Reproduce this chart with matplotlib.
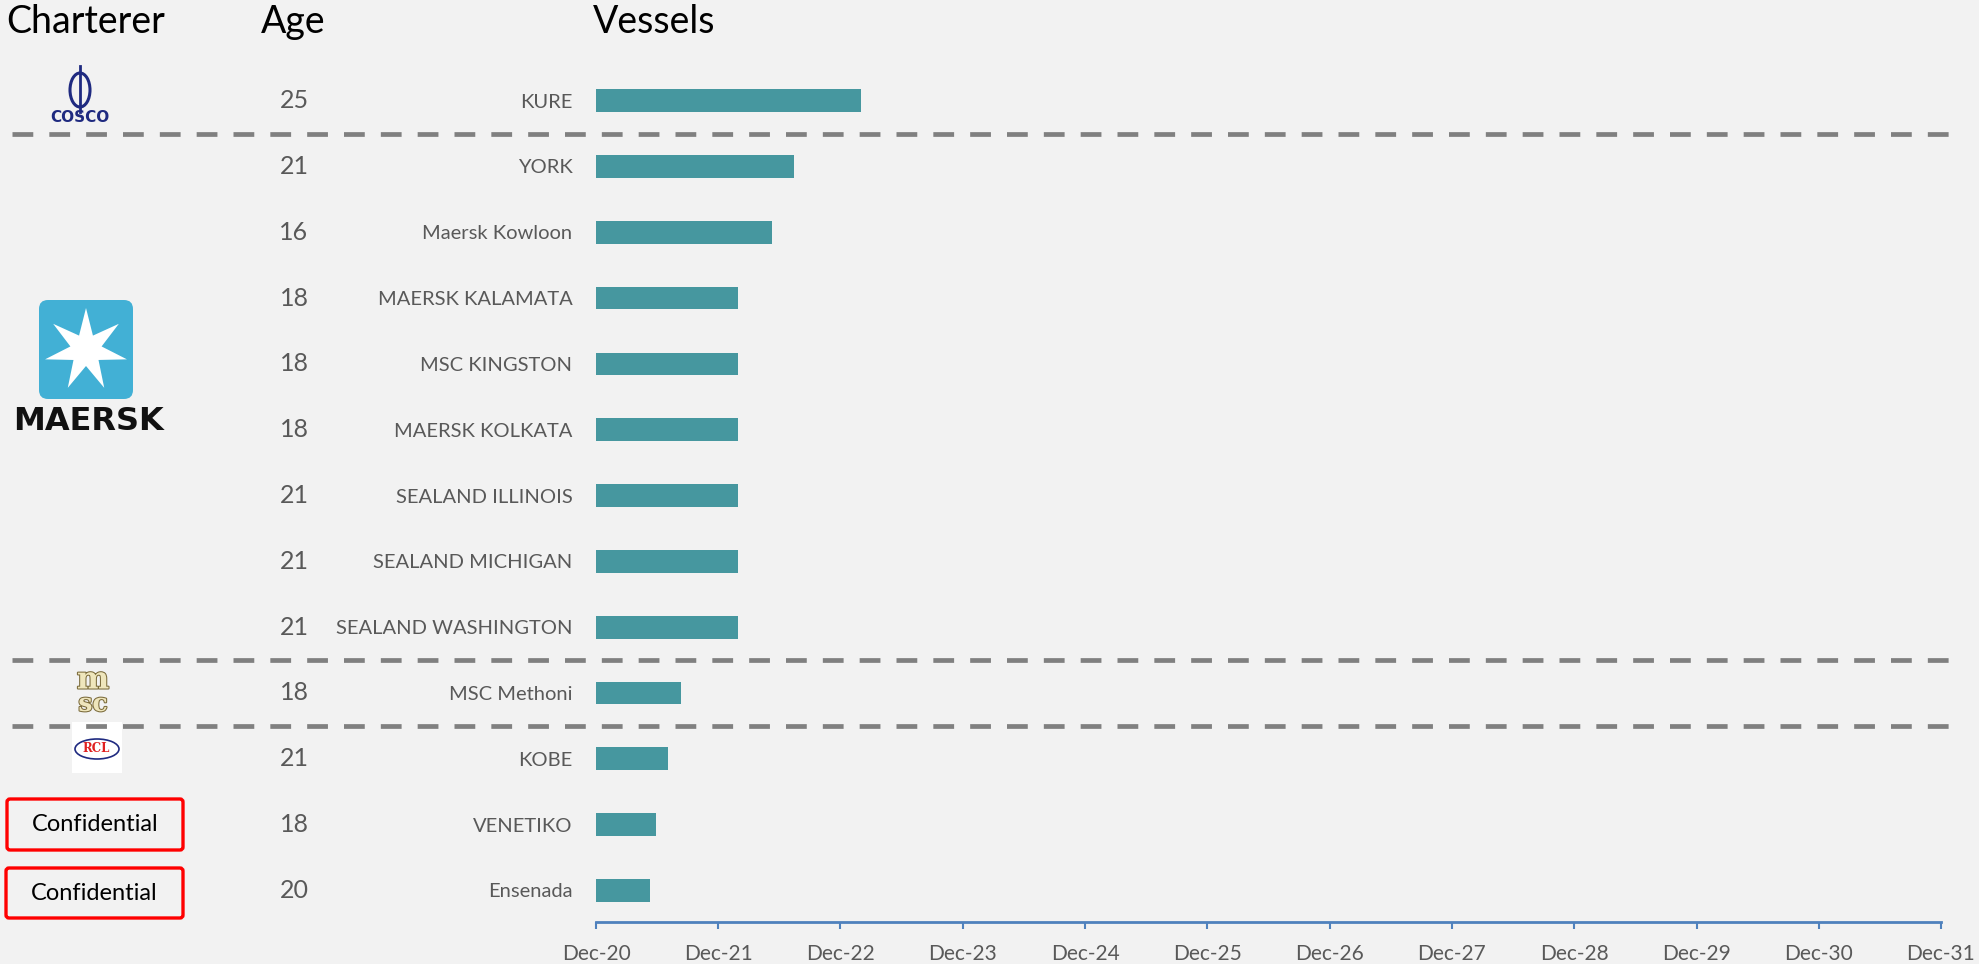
import matplotlib
matplotlib.use('Agg')
import matplotlib.pyplot as plt
import matplotlib.dates as mdates
import matplotlib.transforms as mtransforms
import matplotlib.patheffects as pe
from matplotlib.patches import FancyBboxPatch, Ellipse, Polygon, Rectangle
import numpy as np
from datetime import datetime

# Datos
buques = ['KURE', 'YORK', 'Maersk Kowloon', 'MAERSK KALAMATA', 'MSC KINGSTON',
          'MAERSK KOLKATA', 'SEALAND ILLINOIS', 'SEALAND MICHIGAN',
          'SEALAND WASHINGTON', 'MSC Methoni', 'KOBE', 'VENETIKO', 'Ensenada']
edades = [25, 21, 16, 18, 18, 18, 21, 21, 21, 18, 21, 18, 20]
fin_contrato = ['2023-02-01', '2022-07-15', '2022-05-10', '2022-01-28', '2022-01-28',
                '2022-01-28', '2022-01-28', '2022-01-28', '2022-01-28', '2021-08-13',
                '2021-07-03', '2021-05-30', '2021-05-10']
inicio = '2020-12-01'
# fletadores y cantidad de buques por grupo (separadores entre grupos)
fletadores = ['COSCO', 'MAERSK', 'MSC', 'RCL', 'Confidential']
buques_por_fletador = [1, 8, 1, 1, 2]
ticks_anios = list(range(2020, 2032))

W, H = 1979, 964
fondo = '#F2F2F2'
gris = '#595959'

fig = plt.figure(figsize=(W / 100, H / 100), dpi=100, facecolor=fondo)
plt.rcParams['font.family'] = ['Lato', 'DejaVu Sans']

# eje principal de barras
x0, x1, y_eje = 596, 1941, 922
ax = fig.add_axes([x0 / W, (H - y_eje) / H, (x1 - x0) / W, y_eje / H])
ax.set_facecolor('none')

y = np.arange(len(buques))
d0 = mdates.date2num(datetime.strptime(inicio, '%Y-%m-%d'))
fines = np.array([mdates.date2num(datetime.strptime(f, '%Y-%m-%d')) for f in fin_contrato])
ax.barh(y, fines - d0, left=d0, height=0.345, color='#46979F')

ticks = [mdates.date2num(datetime(a, 12, 1)) for a in ticks_anios]
ax.set_xticks(ticks)
ax.xaxis.set_major_formatter(mdates.DateFormatter('%b-%y'))
ax.set_xlim(ticks[0], ticks[-1])
ax.set_ylim(12.48, -1.53)

ax.set_yticks(y)
ax.set_yticklabels(buques, color=gris, fontsize=14.5)
ax.tick_params(axis='y', length=0, pad=17)
ax.tick_params(axis='x', colors='#4F81BD', length=5, width=1.5, labelcolor=gris,
               labelsize=15, pad=11)
for s in ['top', 'right', 'left']:
    ax.spines[s].set_visible(False)
ax.spines['bottom'].set_color('#4F81BD')
ax.spines['bottom'].set_linewidth(2)

# separadores punteados entre fletadores
trans_sep = ax.get_yaxis_transform()
cortes = np.cumsum(buques_por_fletador)[:-2] - 0.5
for c in cortes:
    ax.plot([(12 - x0) / (x1 - x0), (1956 - x0) / (x1 - x0)], [c, c], transform=trans_sep,
            color='#808080', lw=3.4, linestyle=(0, (4.4, 3.4)), dash_capstyle='butt',
            clip_on=False)

# edades
trans_edad = mtransforms.blended_transform_factory(fig.transFigure, ax.transData)
for yi, e in zip(y, edades):
    ax.text(294 / W, yi, str(e), transform=trans_edad, ha='center', va='center',
            fontsize=18, color=gris)

# encabezados
fig.text(6 / W, 1 - 22 / H, 'Charterer', fontsize=27, va='center', ha='left')
fig.text(261 / W, 1 - 22 / H, 'Age', fontsize=27, va='center', ha='left')
fig.text(593 / W, 1 - 22 / H, 'Vessels', fontsize=27, va='center', ha='left')

# logos (aproximados) en coordenadas de pixel
lg = fig.add_axes([0, 0, 1, 1], zorder=-1)
lg.set_xlim(0, W)
lg.set_ylim(H, 0)
lg.axis('off')
lg.patch.set_alpha(0)

# COSCO
azul = '#1F2A80'
lg.add_patch(Ellipse((80, 90), 20, 34, fill=False, ec=azul, lw=2.2))
lg.plot([80, 80], [66, 112], color=azul, lw=2)
lg.text(80, 117, 'COSCO', ha='center', va='center', fontsize=11, fontweight='black',
        color=azul, family='DejaVu Sans')

# MAERSK
lg.add_patch(FancyBboxPatch((47, 308), 78, 83, boxstyle='round,pad=8,rounding_size=9',
                            fc='#42B0D5', ec='none'))
ang = np.pi / 2 + np.arange(14) * np.pi / 7
rad = np.where(np.arange(14) % 2 == 0, 42, 16)
lg.add_patch(Polygon(np.c_[86 + rad * np.cos(ang), 350 - rad * np.sin(ang)], fc='white', ec='none'))
lg.text(88, 421, 'MAERSK', ha='center', va='center', fontsize=23, fontweight='bold',
        color='#111111', family='DejaVu Sans')

# MSC
ef = [pe.withStroke(linewidth=1.5, foreground='#7A6A3A')]
lg.text(93, 680, 'm', ha='center', va='center', fontsize=22, fontweight='bold',
        family='DejaVu Serif', color='#EFE6BC', path_effects=ef)
lg.text(93, 704, 'sc', ha='center', va='center', fontsize=18, fontweight='bold',
        family='DejaVu Serif', color='#EFE6BC', path_effects=ef)

# RCL
lg.add_patch(Rectangle((72, 722), 50, 51, fc='white', ec='none'))
lg.add_patch(Ellipse((97, 749), 44, 20, fill=False, ec='#1F2A80', lw=1.2))
lg.text(96, 749, 'RCL', ha='center', va='center', fontsize=8.5, fontweight='bold',
        family='DejaVu Serif', color='#E02020')

# Confidencial
for (bx, by, bw, bh) in [(7, 799, 176, 51), (6, 868, 177, 50)]:
    lg.add_patch(FancyBboxPatch((bx, by), bw, bh, boxstyle='round,pad=0,rounding_size=3',
                                fill=False, ec='#FF0000', lw=2.4))
    lg.text(bx + bw / 2, by + bh / 2, 'Confidential', ha='center', va='center',
            fontsize=17, color='black')

fig.savefig('out.png', dpi=100, facecolor=fondo)
